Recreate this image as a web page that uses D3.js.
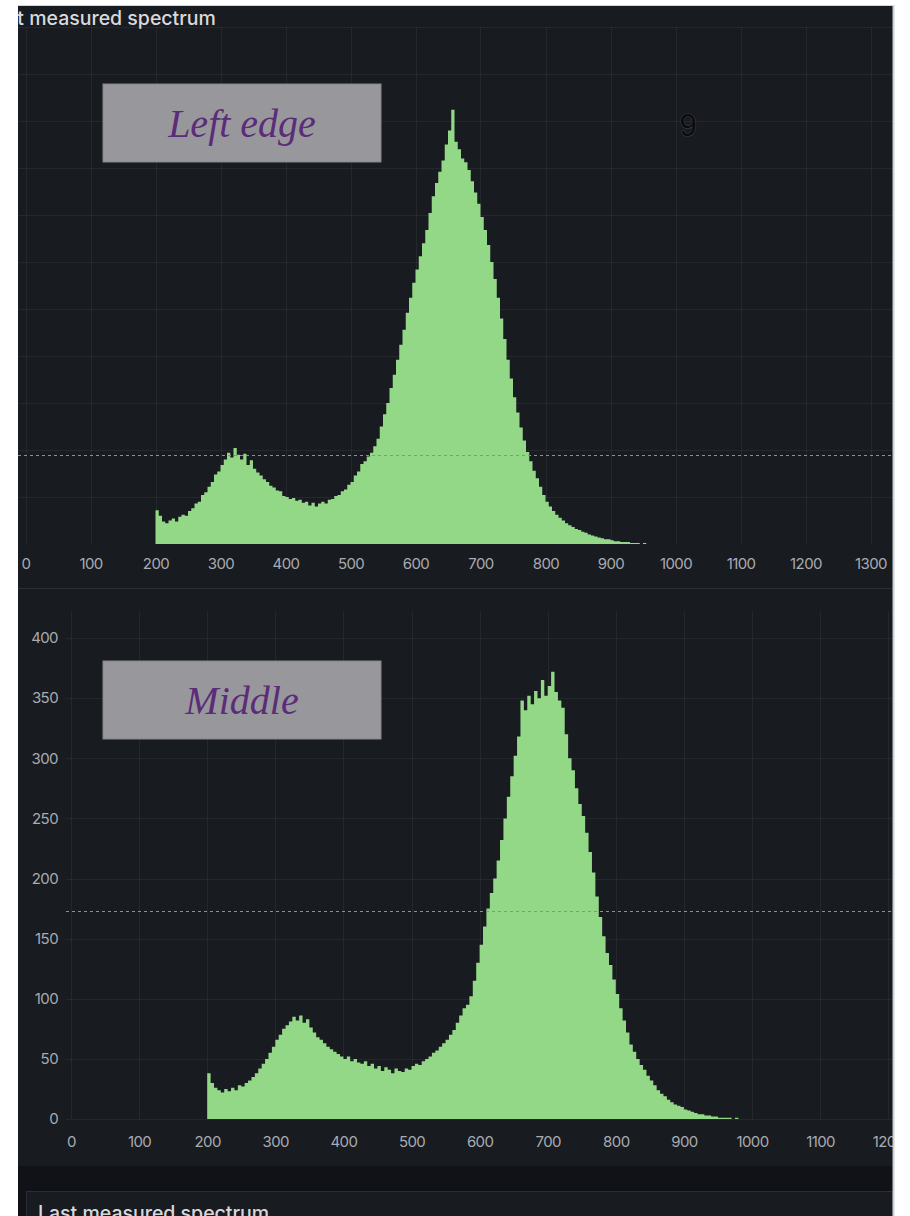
<!DOCTYPE html>
<html>
<head>
<meta charset="utf-8">
<script src="https://cdn.jsdelivr.net/npm/d3@7"></script>
<style>
  html, body { margin: 0; padding: 0; background: #ffffff; }
  svg { display: block; }
</style>
</head>
<body>
<svg id="chart" width="910" height="1216"></svg>
<script>
// Spectrum counts, 5 nm bins starting at 200 nm
const binStart = 200;
const binWidth = 5;

const leftEdgeCounts = [
  36, 30, 24, 22, 25, 27, 24, 29, 31, 30, 35, 38, 43, 45, 52, 55, 61, 66, 74, 77,
  84, 90, 97, 92, 102, 95, 90, 96, 84, 89, 80, 76, 73, 69, 66, 62, 60, 57, 56, 51,
  50, 48, 49, 46, 47, 44, 45, 41, 44, 40, 43, 45, 43, 47, 48, 51, 52, 56, 58, 63,
  66, 73, 77, 85, 88, 93, 97, 104, 112, 125, 138, 150, 166, 180, 196, 212, 228, 246, 262, 278,
  292, 306, 320, 334, 352, 370, 384, 396, 408, 425, 440, 462, 428, 420, 410, 406, 398, 386, 374, 362,
  348, 334, 318, 300, 282, 262, 240, 218, 196, 176, 156, 140, 124, 110, 98, 88, 78, 70, 61, 52,
  45, 40, 35, 31, 28, 25, 22, 20, 18, 16, 15, 13, 12, 10, 9, 8, 7, 6, 5, 5,
  4, 3, 3, 2, 2, 2, 1, 1, 1, 0, 1
];

const middleCounts = [
  38, 30, 26, 24, 22, 25, 23, 26, 24, 28, 27, 30, 32, 35, 38, 42, 46, 50, 55, 60,
  66, 70, 75, 78, 81, 85, 82, 86, 80, 83, 76, 72, 68, 66, 63, 60, 58, 56, 54, 52,
  50, 52, 48, 50, 47, 46, 48, 44, 46, 42, 44, 40, 43, 41, 38, 42, 40, 39, 42, 41,
  44, 46, 45, 48, 50, 52, 55, 57, 60, 63, 66, 70, 74, 80, 86, 92, 95, 102, 115, 130,
  145, 160, 175, 188, 200, 215, 232, 250, 268, 285, 302, 318, 348, 340, 352, 345, 356, 350, 365, 352,
  360, 372, 355, 348, 342, 320, 300, 290, 275, 262, 252, 238, 222, 205, 185, 168, 152, 138, 128, 116,
  104, 92, 82, 72, 62, 56, 50, 45, 41, 36, 32, 28, 24, 21, 19, 16, 14, 12, 11, 10,
  8, 7, 6, 5, 4, 4, 3, 3, 2, 2, 1, 1, 1, 1, 0, 1
];

const xTicks = [0, 100, 200, 300, 400, 500, 600, 700, 800, 900, 1000, 1100, 1200, 1300];
const yTicksMiddle = [0, 50, 100, 150, 200, 250, 300, 350, 400];
const yGridLeft = [50, 100, 150, 200, 250, 300, 350, 400, 450, 500, 550];

const thresholdLeft = 95;
const thresholdMiddle = 173;

const panelLabels = ["Left edge", "Middle"];
const strayLabel = "9";
const titleText = "Last measured spectrum";

const svg = d3.select("#chart");
const COLORS = {
  page: "#111217",
  panel: "#181b1f",
  grid: "rgba(204,204,220,0.07)",
  tick: "#a9abb2",
  title: "#d8d9de",
  fill: "#92d886",
  dash: "#8d8f97",
  border: "#2b2e34"
};
const fmt = d3.format("d");
const TICK_FONT = 15;
const TITLE_FONT = 19.5;

// Dashboard background
svg.append("rect").attr("x", 18).attr("y", 5).attr("width", 876).attr("height", 1211)
  .attr("fill", COLORS.page);
svg.append("rect").attr("x", 18).attr("y", 6).attr("width", 875).attr("height", 1160)
  .attr("fill", COLORS.panel);
svg.append("line").attr("x1", 18).attr("x2", 893).attr("y1", 588.5).attr("y2", 588.5)
  .attr("stroke", COLORS.border);

function styleTicks(sel) {
  sel.attr("fill", COLORS.tick).attr("font-family", "Inter, sans-serif")
    .attr("font-size", TICK_FONT).attr("letter-spacing", "-0.6px");
}

function drawPanel(cfg) {
  const g = svg.append("g");
  const clipId = "clip-" + cfg.name;
  svg.append("clipPath").attr("id", clipId).append("rect")
    .attr("x", 18).attr("y", cfg.top).attr("width", 875).attr("height", cfg.bottomEdge - cfg.top);
  g.attr("clip-path", `url(#${clipId})`);

  const x = d3.scaleLinear().domain(cfg.xDomain).range([cfg.left, 893]);
  const y = d3.scaleLinear().domain(cfg.yDomain).range([cfg.baseline, cfg.plotTop]);

  // grid
  g.append("g").selectAll("line").data(cfg.yGrid).join("line")
    .attr("x1", cfg.gridLeft).attr("x2", 893)
    .attr("y1", d => Math.round(y(d)) + 0.5).attr("y2", d => Math.round(y(d)) + 0.5)
    .attr("stroke", COLORS.grid);
  g.append("g").selectAll("line").data(xTicks).join("line")
    .attr("x1", d => Math.round(x(d)) + 0.5).attr("x2", d => Math.round(x(d)) + 0.5)
    .attr("y1", cfg.plotTop).attr("y2", cfg.baseline)
    .attr("stroke", COLORS.grid);

  // histogram as a stepped area (one shape, no seams between bins)
  const pts = cfg.counts.map((d, i) => ({ v: binStart + i * binWidth, c: d }));
  pts.push({ v: binStart + cfg.counts.length * binWidth, c: cfg.counts[cfg.counts.length - 1] });
  const area = d3.area()
    .x(d => x(d.v))
    .y0(cfg.baseline)
    .y1(d => y(d.c))
    .curve(d3.curveStepAfter);
  g.append("path").datum(pts).attr("d", area).attr("fill", COLORS.fill);

  // threshold
  g.append("line")
    .attr("x1", cfg.gridLeft).attr("x2", 893)
    .attr("y1", Math.round(y(cfg.threshold)) + 0.5).attr("y2", Math.round(y(cfg.threshold)) + 0.5)
    .attr("stroke", COLORS.dash).attr("stroke-dasharray", "3,3");

  // x axis labels
  const xAxis = d3.axisBottom(x).tickValues(xTicks).tickFormat(fmt).tickSize(0).tickPadding(0);
  const xa = g.append("g").attr("transform", `translate(0,${cfg.xLabelY})`).call(xAxis);
  xa.select(".domain").remove();
  xa.selectAll("text").call(styleTicks).attr("dy", "0.35em").attr("y", 0);

  if (cfg.showY) {
    const yAxis = d3.axisLeft(y).tickValues(yTicksMiddle).tickFormat(fmt).tickSize(0).tickPadding(0);
    const ya = g.append("g").attr("transform", `translate(${cfg.yLabelX},0)`).call(yAxis);
    ya.select(".domain").remove();
    ya.selectAll("text").call(styleTicks).attr("x", 0);
  }

  // annotation box
  g.append("rect").attr("x", 103).attr("y", cfg.boxY).attr("width", 278).attr("height", 78)
    .attr("fill", "#98989c").attr("stroke", "#85858a").attr("stroke-width", 1);
  g.append("text").attr("x", 242).attr("y", cfg.boxY + 53)
    .attr("text-anchor", "middle")
    .attr("font-family", "'Liberation Serif', serif").attr("font-style", "italic")
    .attr("font-size", 40).attr("fill", "#5b2c78")
    .text(cfg.label);
  return { x, y, g };
}

drawPanel({
  name: "left", top: 6, bottomEdge: 588, left: 25.5, gridLeft: 18,
  xDomain: [0, (893 - 25.5) / 0.65], yDomain: [0, 550], baseline: 544, plotTop: 27,
  yGrid: yGridLeft, counts: leftEdgeCounts, threshold: thresholdLeft,
  xLabelY: 564, showY: false, boxY: 84, label: panelLabels[0]
});

drawPanel({
  name: "middle", top: 589, bottomEdge: 1166, left: 71, gridLeft: 66,
  xDomain: [0, (893 - 71) / 0.681], yDomain: [0, 400 * (1119 - 612) / (1119 - 638)], baseline: 1119, plotTop: 612,
  yGrid: yTicksMiddle, counts: middleCounts, threshold: thresholdMiddle,
  xLabelY: 1142, showY: true, yLabelX: 58, boxY: 661, label: panelLabels[1]
});

// stray digit, dark with a faint halo
svg.append("text").attr("x", 688).attr("y", 136).attr("text-anchor", "middle")
  .attr("font-family", "'Liberation Sans', Arial, sans-serif").attr("font-size", 31)
  .attr("fill", "#0b0b0d").attr("stroke", "rgba(120,120,130,0.35)").attr("stroke-width", 1.2)
  .attr("paint-order", "stroke").text(strayLabel);

// panel title (its start runs under the page margin)
function titleText_(sel) {
  return sel.attr("font-family", "Inter, sans-serif").attr("font-size", TITLE_FONT)
    .attr("font-weight", 500).attr("fill", COLORS.title);
}
const t1 = svg.append("text").attr("y", 25).call(titleText_).text(titleText);
const probe = svg.append("text").call(titleText_).text("Last");
const lastW = probe.node().getComputedTextLength();
probe.remove();
t1.attr("x", 30 - lastW - 6);

// next panel, partly visible
svg.append("rect").attr("x", 26.5).attr("y", 1191.5).attr("width", 866).attr("height", 40)
  .attr("fill", COLORS.panel).attr("stroke", COLORS.border);
svg.append("text").attr("x", 38).attr("y", 1220).call(titleText_).text(titleText);

// page margins and frame edges
svg.append("rect").attr("x", 0).attr("y", 0).attr("width", 18).attr("height", 1216).attr("fill", "#ffffff");
svg.append("rect").attr("x", 0).attr("y", 0).attr("width", 910).attr("height", 5).attr("fill", "#ffffff");
svg.append("rect").attr("x", 894).attr("y", 0).attr("width", 16).attr("height", 1216).attr("fill", "#ffffff");
svg.append("line").attr("x1", 893.5).attr("x2", 893.5).attr("y1", 5).attr("y2", 1216)
  .attr("stroke", "#cfd0d3").attr("stroke-width", 2);
svg.append("line").attr("x1", 18).attr("x2", 894).attr("y1", 5.5).attr("y2", 5.5)
  .attr("stroke", "#d5d6d9");
</script>
</body>
</html>
